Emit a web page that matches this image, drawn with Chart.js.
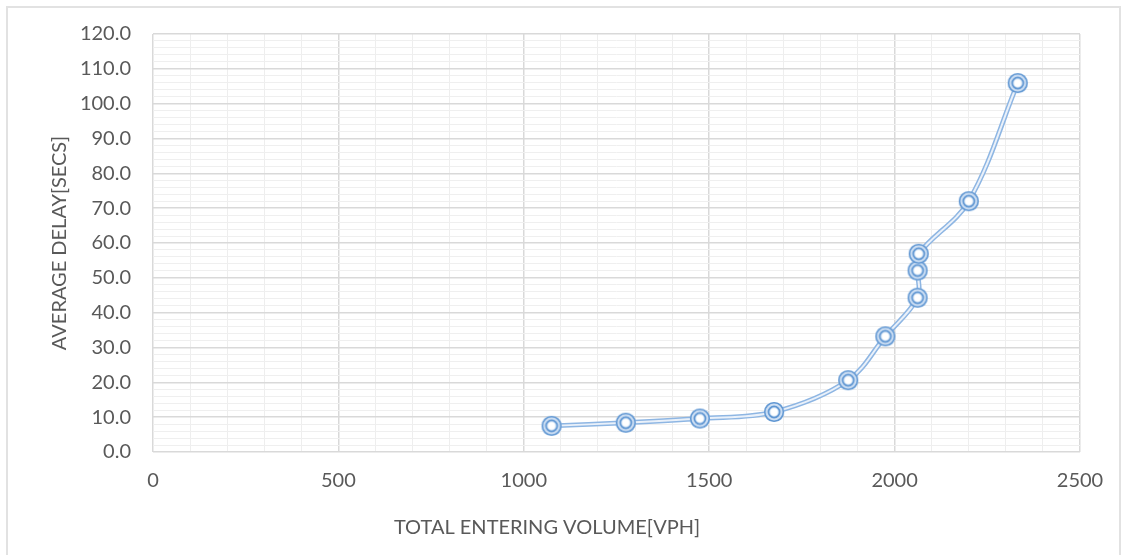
<!DOCTYPE html>
<html>
<head>
<meta charset="utf-8">
<script src="https://cdn.jsdelivr.net/npm/chart.js@4/dist/chart.umd.min.js"></script>
<style>
  html, body { margin: 0; padding: 0; background: #ffffff; }
  #wrap { position: relative; width: 1127px; height: 555px; overflow: hidden; }
  #frame { position: absolute; left: 6px; top: 6px; right: 6px; bottom: -20px; border: 2px solid #e2e2e2; }
  #c { position: absolute; left: 0; top: 0; }
</style>
</head>
<body>
<div id="wrap">
  <div id="frame"></div>
  <canvas id="c" width="1127" height="555"></canvas>
</div>
<script>
// Total entering volume (veh/h) against average delay (s)
const volumeVph = [1075, 1275, 1475, 1675, 1875, 1975, 2062, 2062, 2065, 2200, 2332];
const delaySecs = [7.5, 8.4, 9.6, 11.5, 20.6, 33.2, 44.3, 52.1, 56.9, 72.0, 105.9];

const xMajorStep = 500;
const yMajorStep = 10;

const points = volumeVph.map((v, i) => ({ x: v, y: delaySecs[i] }));

// Double-ring marker
function makeMarker() {
  const s = 24, c = s / 2;
  const cv = document.createElement('canvas');
  cv.width = s; cv.height = s;
  const g = cv.getContext('2d');
  g.beginPath(); g.arc(c, c, 10.0, 0, Math.PI * 2); g.fillStyle = '#cfe0f4'; g.fill();
  g.beginPath(); g.arc(c, c, 9.3, 0, Math.PI * 2); g.lineWidth = 1.6; g.strokeStyle = '#5f96d2'; g.stroke();
  g.beginPath(); g.arc(c, c, 5.6, 0, Math.PI * 2); g.lineWidth = 1.7; g.strokeStyle = '#5f96d2'; g.stroke();
  g.beginPath(); g.arc(c, c, 3.7, 0, Math.PI * 2); g.fillStyle = '#ffffff'; g.fill();
  return cv;
}
const marker = makeMarker();

const labelColor = '#595959';
const fontFamily = 'Lato, "Open Sans", "Liberation Sans", sans-serif';
const labelFont = { family: fontFamily, size: 20 };

new Chart(document.getElementById('c'), {
  type: 'scatter',
  data: {
    datasets: [
      {
        data: points, showLine: false, order: 0,
        pointStyle: marker, pointRadius: 12, pointHoverRadius: 12
      },
      {
        data: points, showLine: true, order: 1, tension: 0.35,
        borderColor: '#eaf1fa', borderWidth: 2, pointRadius: 0
      },
      {
        data: points, showLine: true, order: 2, tension: 0.35,
        borderColor: '#8eb6e3', borderWidth: 5, pointRadius: 0
      }
    ]
  },
  options: {
    responsive: false,
    animation: false,
    events: [],
    layout: { padding: { left: 14, right: 47, top: 33, bottom: 0 } },
    plugins: {
      legend: { display: false },
      tooltip: { enabled: false },
      title: {
        display: true, position: 'bottom', text: 'TOTAL ENTERING VOLUME[VPH]',
        color: labelColor, font: { family: fontFamily, size: 20, weight: 'normal' },
        padding: { top: 0, bottom: 15 }
      }
    },
    scales: {
      x: {
        type: 'linear', min: 0, max: 2500,
        afterFit: s => { s.height = 64; },
        border: { display: false },
        grid: {
          drawTicks: false,
          color: ctx => (ctx.tick && ctx.tick.value % xMajorStep === 0) ? '#d9d9d9' : '#eeeeee',
          lineWidth: ctx => (ctx.tick && ctx.tick.value % xMajorStep === 0) ? 1.5 : 1
        },
        ticks: {
          stepSize: 100, autoSkip: false, maxRotation: 0, padding: 17,
          color: labelColor, font: labelFont,
          callback: v => (v % xMajorStep === 0) ? String(v) : ''
        }
      },
      y: {
        type: 'linear', min: 0, max: 120,
        afterFit: s => { s.width = 139; },
        border: { display: false },
        grid: {
          drawTicks: false,
          color: ctx => (ctx.tick && ctx.tick.value % yMajorStep === 0) ? '#d9d9d9' : '#efefef',
          lineWidth: ctx => (ctx.tick && ctx.tick.value % yMajorStep === 0) ? 1.5 : 1
        },
        ticks: {
          stepSize: 2, autoSkip: false, padding: 22,
          color: labelColor, font: labelFont,
          callback: v => (v % yMajorStep === 0) ? v.toFixed(1) : ''
        },
        title: {
          display: true, text: 'AVERAGE DELAY[SECS]',
          color: labelColor, font: labelFont,
          padding: { top: 34, bottom: 0 }
        }
      }
    }
  }
});
</script>
</body>
</html>
